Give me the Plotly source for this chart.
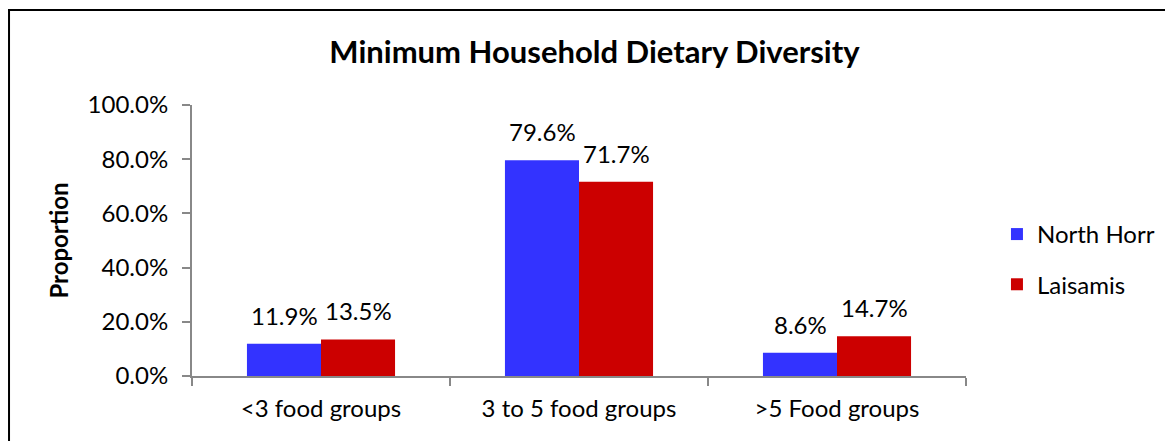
import plotly.graph_objects as go

categories = ["<3 food groups", "3 to 5 food groups", ">5 Food groups"]
north_horr = [11.9, 79.6, 8.6]
laisamis = [13.5, 71.7, 14.7]
y_ticks = [0, 20, 40, 60, 80, 100]

FONT = "Lato, 'Open Sans', sans-serif"
FS = 24

fig = go.Figure()
fig.add_trace(go.Bar(name="North Horr", x=categories, y=north_horr,
                     marker=dict(color="#3333FF", line=dict(width=0)),
                     legendgroup="a"))
fig.add_trace(go.Bar(name="Laisamis", x=categories, y=laisamis,
                     marker=dict(color="#CC0000", line=dict(width=0)),
                     legendgroup="b"))

# data labels above each bar (offset to the grouped bar centres)
for series, shift in ((north_horr, -37), (laisamis, 37)):
    for cat, val in zip(categories, series):
        fig.add_annotation(x=cat, y=val, text=f"{val:.1f}%", showarrow=False,
                           xref="x", yref="y", xshift=shift, yshift=12,
                           yanchor="bottom", xanchor="center",
                           font=dict(size=FS, color="black", family=FONT))

fig.update_layout(
    width=1173, height=441,
    margin=dict(l=184, r=215, t=97, b=73),
    paper_bgcolor="white", plot_bgcolor="white",
    font=dict(family=FONT, size=FS, color="black"),
    title=dict(text="<b>Minimum Household Dietary Diversity</b>",
               x=0.5, xanchor="center", y=0.9, yanchor="middle",
               font=dict(size=31, color="black", family=FONT)),
    barmode="group", bargap=0.426, bargroupgap=0,
    showlegend=True,
    legend=dict(x=1.04, xanchor="left", y=0.43, yanchor="middle",
                font=dict(size=FS), tracegroupgap=16, traceorder="grouped",
                itemwidth=30, bgcolor="rgba(0,0,0,0)"),
)
fig.update_yaxes(range=[0, 100], tickvals=y_ticks,
                 ticktext=[f"{v:.1f}%" for v in y_ticks],
                 showgrid=False, showline=True, linecolor="#888888", linewidth=2,
                 ticks="outside", ticklen=8, tickcolor="#888888", tickwidth=2,
                 zeroline=False, tickfont=dict(size=FS), ticklabelstandoff=9,
                 title=dict(text="<b>Proportion</b>", font=dict(size=FS), standoff=12))
fig.update_xaxes(showgrid=False, showline=True, linecolor="#888888", linewidth=2,
                 ticks="outside", ticklen=8, tickcolor="#888888", tickwidth=2,
                 tickson="boundaries", tickfont=dict(size=FS), ticklabelstandoff=10)

fig.add_shape(type="rect", xref="paper", yref="paper",
              x0=-0.2364, x1=1.28, y0=-0.3, y1=1.3506,
              line=dict(color="black", width=2), fillcolor="rgba(0,0,0,0)", layer="above")

fig.write_html("out.html")
